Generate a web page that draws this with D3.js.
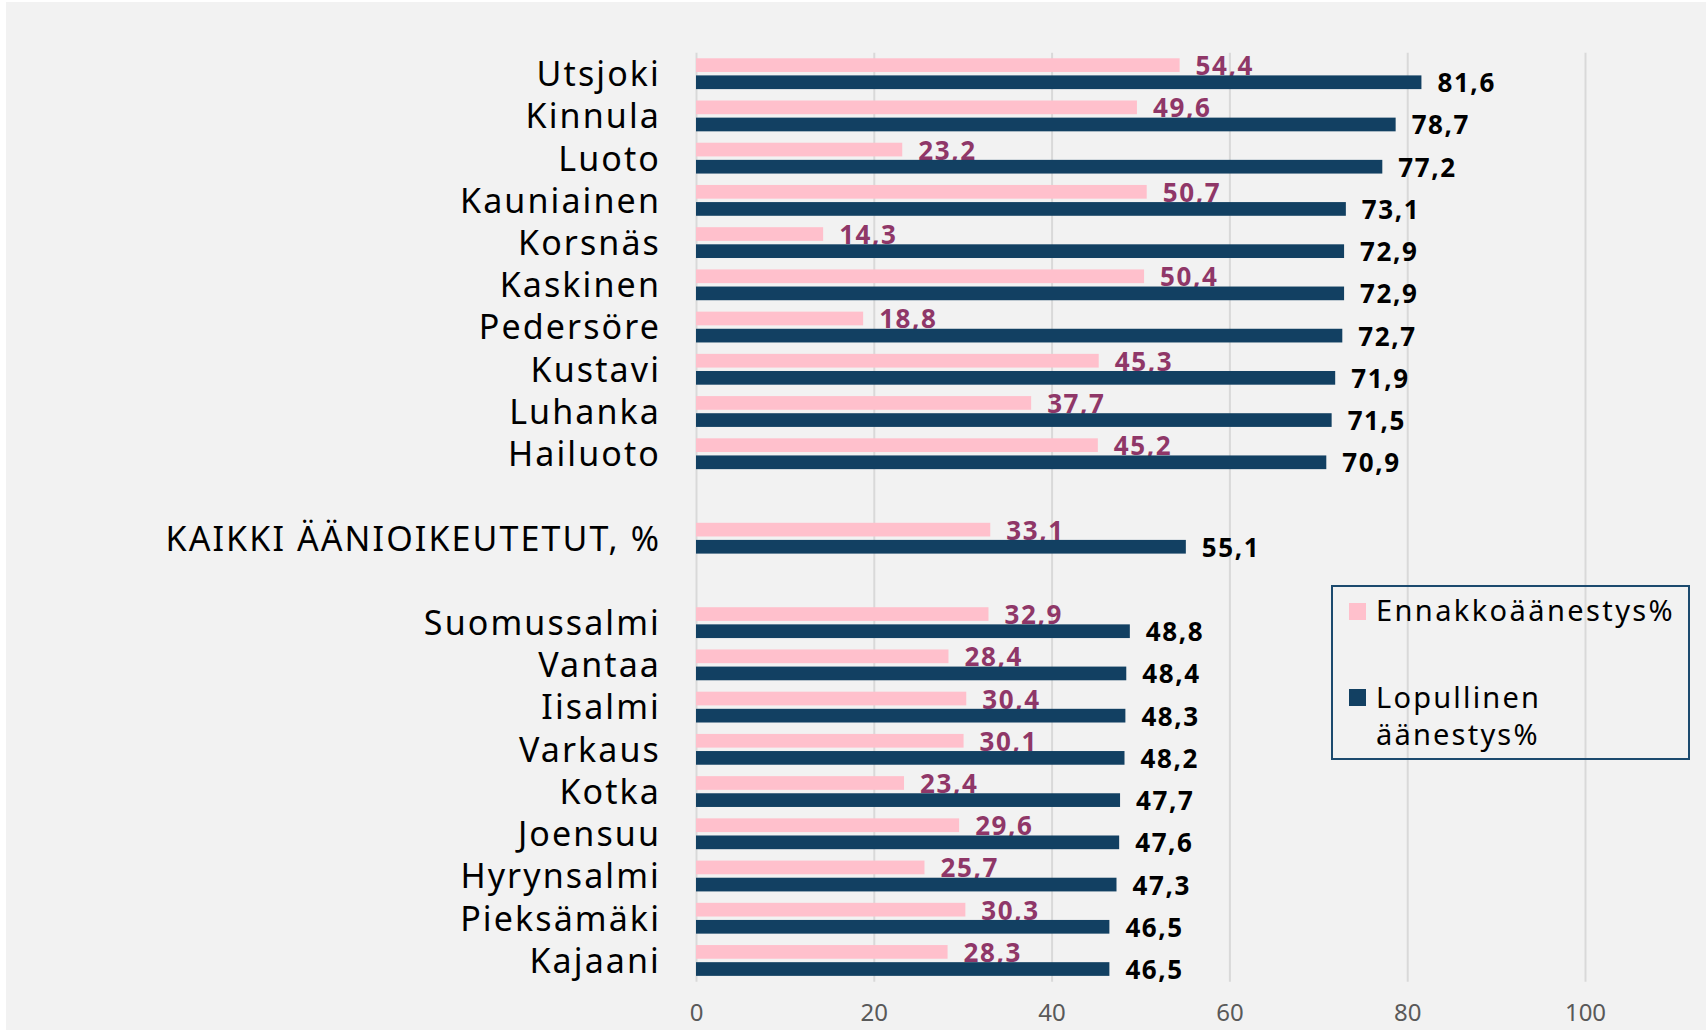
<!DOCTYPE html>
<html>
<head>
<meta charset="utf-8">
<script src="https://cdn.jsdelivr.net/npm/d3@7"></script>
<style>
  html, body { margin: 0; padding: 0; background: #ffffff; }
  svg { display: block; font-family: "Noto Sans", sans-serif; }
</style>
</head>
<body>
<svg id="chart" width="1706" height="1030"></svg>
<script>
// kunnat, tyhjä rivi = ""
const categories = [
  "Utsjoki", "Kinnula", "Luoto", "Kauniainen", "Korsnäs", "Kaskinen",
  "Pedersöre", "Kustavi", "Luhanka", "Hailuoto",
  "",
  "KAIKKI ÄÄNIOIKEUTETUT, %",
  "",
  "Suomussalmi", "Vantaa", "Iisalmi", "Varkaus", "Kotka", "Joensuu",
  "Hyrynsalmi", "Pieksämäki", "Kajaani"
];

const ennakko = [
  54.4, 49.6, 23.2, 50.7, 14.3, 50.4, 18.8, 45.3, 37.7, 45.2,
  null,
  33.1,
  null,
  32.9, 28.4, 30.4, 30.1, 23.4, 29.6, 25.7, 30.3, 28.3
];

const lopullinen = [
  81.6, 78.7, 77.2, 73.1, 72.9, 72.9, 72.7, 71.9, 71.5, 70.9,
  null,
  55.1,
  null,
  48.8, 48.4, 48.3, 48.2, 47.7, 47.6, 47.3, 46.5, 46.5
];

const series_names = ["Ennakkoäänestys%", "Lopullinen äänestys%"];
const x_ticks = [0, 20, 40, 60, 80, 100];

const colors = { ennakko: "#ffc0cc", lopullinen: "#124062" };

const svg = d3.select("#chart");

svg.append("rect")
  .attr("x", 6).attr("y", 2)
  .attr("width", 1700).attr("height", 1028)
  .attr("fill", "#f2f2f2");

const margin = { left: 696, right: 121, top: 52.7, bottom: 48.3 };
const width = 1706, height = 1030;

const x = d3.scaleLinear()
  .domain([0, 100])
  .range([margin.left, width - margin.right]);

const y = d3.scaleBand()
  .domain(d3.range(categories.length))
  .range([margin.top, height - margin.bottom]);

const y_inner = d3.scaleBand()
  .domain(["ennakko", "lopullinen"])
  .range([y.bandwidth() * 0.132, y.bandwidth() * 0.862])
  .paddingInner(0.2);

// gridlines
svg.append("g")
  .attr("transform", `translate(0, ${ height - margin.bottom })`)
  .call(d3.axisBottom(x).tickValues(x_ticks).tickSize(-(height - margin.bottom - margin.top)).tickFormat(""))
  .call(g => g.select(".domain").remove())
  .call(g => g.selectAll(".tick line").attr("stroke", "#d9d9d9").attr("stroke-width", 2));

// x axis labels
svg.append("g")
  .attr("transform", `translate(0, ${ height - margin.bottom })`)
  .call(d3.axisBottom(x).tickValues(x_ticks).tickSize(0).tickPadding(0))
  .call(g => g.select(".domain").remove())
  .call(g => g.selectAll(".tick text")
    .attr("y", 39)
    .attr("dy", null)
    .attr("fill", "#595959")
    .style("font-family", "Noto Sans")
    .style("font-size", "24px"));

// category labels
svg.append("g")
  .attr("transform", `translate(${ margin.left }, 0)`)
  .call(d3.axisLeft(y).tickSize(0).tickPadding(35).tickFormat(i => categories[i]))
  .call(g => g.select(".domain").remove())
  .call(g => g.selectAll(".tick text")
    .attr("fill", "#000")
    .attr("dy", "0.36em")
    .style("font-family", "Noto Sans")
    .style("font-size", "34px")
    .style("letter-spacing", "2.1px"));

const rows = categories.map((c, i) => ({
  i,
  name: c,
  ennakko: ennakko[i],
  lopullinen: lopullinen[i]
})).filter(d => d.ennakko !== null);

const bars = svg.append("g");

["ennakko", "lopullinen"].forEach(key => {
  bars.selectAll(`rect.${ key }`)
    .data(rows)
    .enter()
    .append("rect")
    .attr("class", key)
    .attr("x", x(0))
    .attr("y", d => y(d.i) + y_inner(key))
    .attr("width", d => x(d[key]) - x(0))
    .attr("height", y_inner.bandwidth())
    .attr("fill", colors[key]);

  bars.selectAll(`text.${ key }`)
    .data(rows)
    .enter()
    .append("text")
    .attr("class", key)
    .attr("x", d => x(d[key]) + 16)
    .attr("y", d => y(d.i) + y_inner(key) + y_inner.bandwidth() / 2 + 10)
    .attr("fill", key === "ennakko" ? "#8f3768" : "#000")
    .style("font-size", "26px")
    .style("font-weight", "bold")
    .style("letter-spacing", "1.6px")
    .text(d => d3.format(".1f")(d[key]).replace(".", ","));
});

// legend
const legend = svg.append("g");

legend.append("rect")
  .attr("x", 1332).attr("y", 586)
  .attr("width", 357).attr("height", 173)
  .attr("fill", "none")
  .attr("stroke", "#1c4a6e")
  .attr("stroke-width", 2);

legend.append("rect")
  .attr("x", 1349).attr("y", 603)
  .attr("width", 17).attr("height", 17)
  .attr("fill", colors.ennakko);

legend.append("text")
  .attr("x", 1376).attr("y", 620.5)
  .style("font-size", "29px")
  .style("letter-spacing", "2.4px")
  .attr("fill", "#000")
  .text(series_names[0]);

legend.append("rect")
  .attr("x", 1349).attr("y", 689)
  .attr("width", 17).attr("height", 17)
  .attr("fill", colors.lopullinen);

const lop = legend.append("text")
  .attr("x", 1376).attr("y", 707.5)
  .style("font-size", "29px")
  .style("letter-spacing", "2.2px")
  .attr("fill", "#000");

lop.append("tspan").attr("x", 1376).text(series_names[1].split(" ")[0]);
lop.append("tspan").attr("x", 1376).attr("dy", 37.5).text(series_names[1].split(" ")[1]);
</script>
</body>
</html>
